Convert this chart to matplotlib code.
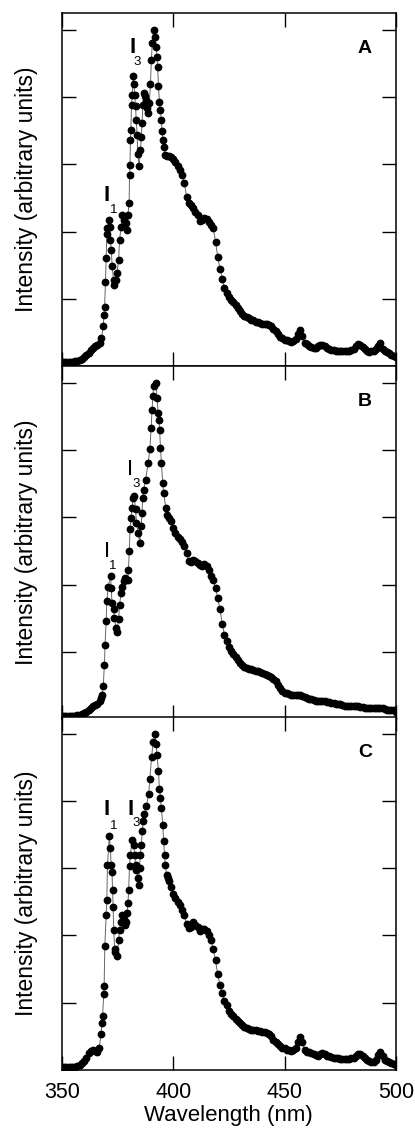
import matplotlib
matplotlib.use("Agg")
import matplotlib.pyplot as plt

plt.rcParams['font.family'] = ['Liberation Sans', 'DejaVu Sans']

wl_tail = list(range(398, 501))

# Panel A: rise and peaks (read point by point), then the tail
wl_a_head = [350, 351, 352, 353, 354, 355, 356, 357, 358, 359, 360, 361, 362, 363, 364, 365, 366, 367,
             367.8, 368.6, 368.9, 369.2, 369.6, 369.9,
             370.2, 370.5, 371.1, 371.5, 371.8, 372.2, 372.6, 373.2, 373.6, 374.3, 374.7, 375.5, 375.9,
             376.6, 377.0, 378.0, 378.6, 379.3, 379.7, 380.2, 380.4, 380.6, 380.8, 381.0, 381.3, 381.6,
             382.0, 382.4, 382.7, 383.1, 383.4, 383.8, 384.1, 384.7, 385.3, 385.7, 386.0, 386.4, 386.9,
             387.4, 388.0, 388.4, 388.9, 389.3, 389.8, 390.2, 390.6, 391.3, 391.9, 392.3, 392.7, 393.0,
             393.4, 393.8, 394.3, 394.7, 395.0, 395.4, 396.0, 396.4, 397.2]
int_a_head = [0.06, 0.06, 0.06, 0.06, 0.06, 0.065, 0.07, 0.08, 0.09, 0.11, 0.13, 0.16, 0.2, 0.24, 0.27, 0.3, 0.31, 0.34,
              0.41, 0.59, 0.76, 0.88, 1.25, 1.6,
              1.97, 2.05, 2.17, 2.07, 1.87, 1.73, 1.48, 1.28, 1.2, 1.28, 1.38, 1.58, 1.87,
              2.07, 2.25, 2.17, 2.12, 2.02, 2.25, 2.42, 2.84, 2.99, 3.36, 3.51, 3.88, 4.03,
              4.32, 4.2, 4.03, 3.86, 3.66, 3.44, 3.16, 2.97, 3.21, 3.41, 3.61, 3.88, 4.06,
              4.01, 3.96, 3.83, 3.76, 3.91, 4.2, 4.55, 4.8, 5.0, 4.9, 4.75, 4.6, 4.45,
              4.16, 3.93, 3.81, 3.66, 3.49, 3.36, 3.26, 3.14, 3.12]
int_a_tail = [3.13, 3.11, 3.08, 3.03, 2.97, 2.92, 2.84, 2.72, 2.52, 2.42, 2.40, 2.35, 2.29, 2.24, 2.16,
              2.17, 2.20, 2.18, 2.14, 2.10, 2.05, 1.85, 1.62, 1.45, 1.30, 1.16, 1.08, 1.02, 0.98, 0.95,
              0.91, 0.86, 0.82, 0.78, 0.75, 0.73, 0.71, 0.69, 0.68, 0.66, 0.65, 0.64, 0.63, 0.63, 0.62,
              0.61, 0.60, 0.55, 0.52, 0.47, 0.43, 0.41, 0.39, 0.38, 0.37, 0.36, 0.37, 0.40, 0.48, 0.53,
              0.44, 0.34, 0.32, 0.30, 0.28, 0.27, 0.27, 0.29, 0.31, 0.31, 0.29, 0.27, 0.25, 0.24, 0.24,
              0.23, 0.22, 0.22, 0.22, 0.22, 0.23, 0.23, 0.24, 0.26, 0.30, 0.33, 0.31, 0.28, 0.25, 0.22,
              0.21, 0.22, 0.23, 0.25, 0.30, 0.34, 0.25, 0.22, 0.21, 0.19, 0.17, 0.15, 0.13]

# Panel B
wl_b_head = [350, 351, 352, 353, 354, 355, 356, 357, 358, 359, 360, 361, 362, 363, 364, 365, 366, 367,
             367.6, 368.0, 368.6, 369.1, 369.4, 369.9,
             370.2, 370.8, 371.9, 372.2, 372.5, 373.2, 373.6, 374.4, 374.8, 375.5, 375.9, 376.6, 377.0,
             378.1, 378.5, 379.6, 379.9, 380.3, 380.6, 381.1, 381.5, 382.1, 382.5, 383.1, 383.5, 384.3,
             385.0, 385.6, 386.0, 386.3, 386.7, 387.6, 388.8, 389.5, 390.1, 390.5, 390.9, 391.2, 392.1,
             392.8, 393.2, 393.6, 393.9, 394.3, 394.7, 395.3, 395.7, 396.7, 397.4]
int_b_head = [0.04, 0.04, 0.04, 0.04, 0.04, 0.045, 0.05, 0.055, 0.06, 0.075, 0.09, 0.11, 0.14, 0.17, 0.19, 0.21, 0.23, 0.27,
              0.31, 0.36, 0.49, 0.81, 1.1, 1.45,
              1.75, 1.97, 2.12, 1.95, 1.73, 1.63, 1.5, 1.35, 1.3, 1.48, 1.7, 1.88, 1.97,
              2.05, 2.1, 2.07, 2.22, 2.5, 2.82, 2.99, 3.14, 3.29, 3.31, 3.12, 2.92, 2.77,
              2.62, 2.87, 3.07, 3.29, 3.41, 3.56, 3.81, 4.01, 4.33, 4.6, 4.8, 4.95, 5.0,
              4.78, 4.55, 4.45, 4.3, 4.03, 3.81, 3.51, 3.36, 3.14, 3.04]
int_b_tail = [2.99, 2.94, 2.84, 2.76, 2.71, 2.67, 2.63, 2.58, 2.47, 2.35, 2.33, 2.37, 2.35, 2.32, 2.29,
              2.28, 2.31, 2.27, 2.21, 2.13, 2.07, 1.95, 1.80, 1.63, 1.42, 1.25, 1.16, 1.07, 1.01, 0.96,
              0.92, 0.88, 0.83, 0.80, 0.78, 0.76, 0.75, 0.74, 0.73, 0.72, 0.71, 0.70, 0.69, 0.67, 0.66,
              0.64, 0.63, 0.60, 0.57, 0.50, 0.46, 0.42, 0.39, 0.38, 0.37, 0.36, 0.36, 0.36, 0.36, 0.36,
              0.34, 0.33, 0.31, 0.30, 0.29, 0.28, 0.27, 0.27, 0.26, 0.26, 0.26, 0.25, 0.25, 0.24, 0.24,
              0.23, 0.22, 0.22, 0.21, 0.20, 0.20, 0.20, 0.19, 0.19, 0.19, 0.19, 0.18, 0.18, 0.17, 0.16,
              0.16, 0.16, 0.16, 0.16, 0.16, 0.16, 0.16, 0.15, 0.14, 0.14, 0.13, 0.13, 0.11]

# Panel C
wl_c_head = [350, 351, 352, 353, 354, 355, 356, 357, 358, 359, 360, 361, 362, 363, 364, 365, 366,
             366.8, 367.6, 368.0, 368.3, 368.8,
             369.0, 369.3, 369.9, 370.2, 370.5, 371.3, 371.8, 372.1, 372.5, 372.8, 373.0, 373.3, 373.7,
             374.0, 374.9, 375.5, 375.9, 376.6, 377.0, 377.8, 378.2, 378.8, 379.2, 379.7, 380.0, 380.4,
             380.7, 381.7, 382.3, 382.7, 383.1, 383.5, 384.1, 384.5, 384.9, 385.2, 385.7, 386.1, 386.6,
             387.0, 388.0, 389.0, 389.5, 390.3, 391.0, 391.8, 392.4, 392.7, 393.4, 393.8, 394.3, 394.7,
             395.3, 395.7, 396.1, 396.5, 397.0, 397.5]
int_c_head = [0.04, 0.04, 0.04, 0.04, 0.04, 0.045, 0.05, 0.06, 0.07, 0.1, 0.13, 0.18, 0.25, 0.28, 0.29, 0.28, 0.27,
              0.33, 0.53, 0.7, 0.8, 1.13,
              1.25, 1.85, 2.3, 2.53, 3.05, 3.48, 3.3, 3.05, 2.95, 2.68, 2.43, 2.08, 1.8,
              1.75, 1.7, 1.93, 2.08, 2.2, 2.3, 2.25, 2.15, 2.2, 2.33, 2.48, 2.68, 3.03,
              3.2, 3.42, 3.35, 3.2, 3.05, 2.98, 2.85, 2.75, 3.0, 3.2, 3.35, 3.55, 3.7,
              3.8, 3.93, 4.1, 4.33, 4.65, 4.88, 4.99, 4.85, 4.68, 4.45, 4.18, 4.05, 3.9,
              3.65, 3.4, 3.2, 3.05, 2.9, 2.85]
int_c_tail = [2.81, 2.72, 2.62, 2.55, 2.50, 2.45, 2.38, 2.30, 2.17, 2.11, 2.12, 2.20, 2.16, 2.12, 2.07,
              2.09, 2.09, 2.06, 2.00, 1.93, 1.80, 1.63, 1.42, 1.26, 1.15, 1.03, 0.97, 0.88, 0.83, 0.80,
              0.76, 0.73, 0.70, 0.67, 0.64, 0.63, 0.61, 0.60, 0.60, 0.59, 0.58, 0.58, 0.57, 0.56, 0.55,
              0.53, 0.50, 0.45, 0.42, 0.38, 0.35, 0.33, 0.32, 0.30, 0.29, 0.28, 0.29, 0.32, 0.41, 0.49,
              0.41, 0.29, 0.27, 0.26, 0.25, 0.24, 0.22, 0.21, 0.23, 0.25, 0.23, 0.21, 0.20, 0.19, 0.18,
              0.18, 0.17, 0.16, 0.16, 0.16, 0.16, 0.16, 0.17, 0.18, 0.20, 0.23, 0.24, 0.21, 0.17, 0.15,
              0.13, 0.12, 0.12, 0.15, 0.22, 0.27, 0.21, 0.15, 0.13, 0.12, 0.11, 0.09, 0.08]

panel_names = ['A', 'B', 'C']
# (I position, subscript position) in data coordinates for I1 and I3
peak_labels = [
    [((370.2, 2.54), (373.3, 2.32)), ((381.9, 4.73), (383.7, 4.52))],
    [((370.1, 2.49), (373.0, 2.27)), ((380.5, 3.71), (383.2, 3.49))],
    [((370.3, 3.87), (373.3, 3.63)), ((380.8, 3.87), (383.5, 3.67))],
]
bold_I = [True, False, True]

series = [
    (wl_a_head + wl_tail, int_a_head + int_a_tail),
    (wl_b_head + wl_tail, int_b_head + int_b_tail),
    (wl_c_head + wl_tail, int_c_head + int_c_tail),
]

fig = plt.figure(figsize=(4.15, 11.31), dpi=100)
left, width, height = 0.149, 0.805, 0.3121
bottoms = [0.6764, 0.3643, 0.0540]

for i, (wl, inten) in enumerate(series):
    ax = fig.add_axes([left, bottoms[i], width, height])
    ax.plot(wl, inten, '-', color='#666666', lw=0.7, zorder=1)
    ax.plot(wl, inten, 'o', color='black', ms=4.6, mec='black', zorder=2)
    ax.set_xlim(350, 500)
    ax.set_ylim(0, 5.25)
    ax.set_xticks([350, 400, 450, 500])
    ax.set_yticks([1, 2, 3, 4, 5])
    ax.set_yticklabels([])
    ax.tick_params(direction='in', length=10, width=1, top=True, right=True)
    for s in ax.spines.values():
        s.set_linewidth(1.1)
    if i < 2:
        ax.set_xticklabels([])
    else:
        ax.set_xticklabels(['350', '400', '450', '500'], fontsize=15.5)
        ax.tick_params(axis='x', pad=9)
        ax.set_xlabel('Wavelength (nm)', fontsize=16, labelpad=1)
    ax.set_ylabel('Intensity (arbitrary units)', fontsize=16.5, labelpad=14)
    ax.text(0.907, 0.90, panel_names[i], transform=ax.transAxes, fontsize=14,
            fontweight='bold', ha='center', va='center')
    w = 'bold' if bold_I[i] else 'normal'
    for (ipos, spos), sub in zip(peak_labels[i], ['1', '3']):
        ax.text(ipos[0], ipos[1], 'I', fontsize=16, fontweight=w, ha='center', va='center')
        ax.text(spos[0], spos[1], sub, fontsize=9.5, ha='center', va='center')

fig.savefig('out.png', dpi=100)
